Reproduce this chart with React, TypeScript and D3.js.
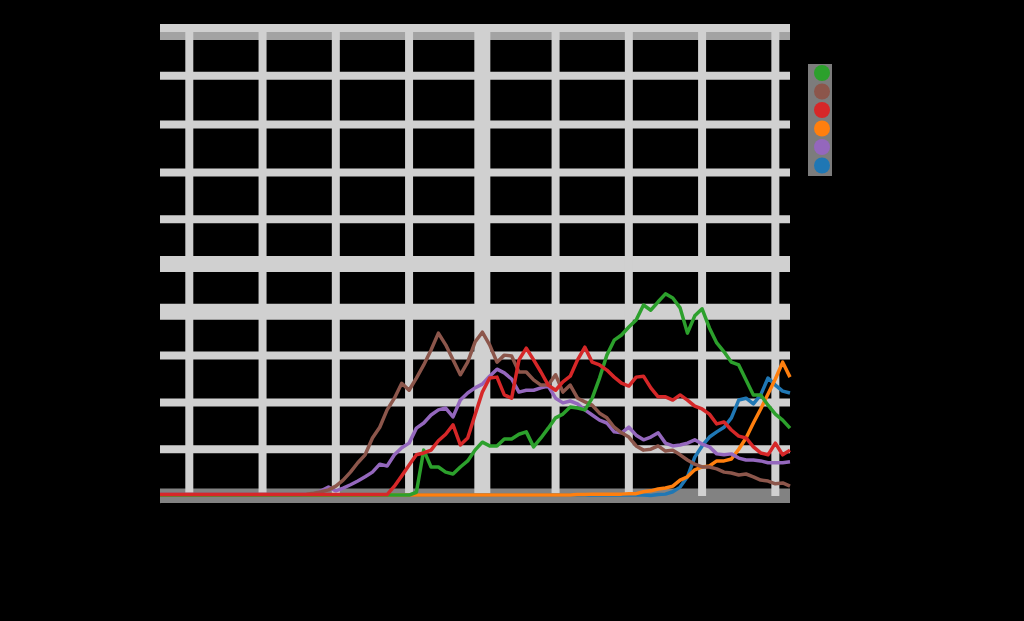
import React, { useRef, useEffect } from 'react';
import * as d3 from 'd3';

// period index shared by every series (10 periods between grid ticks)
const periods: number[] = d3.range(0, 87);

const xTickValues = [4, 14, 24, 34, 44, 54, 64, 74, 84];
const xTickLabels = ['2012', '2013', '2014', '2015', '2016', '2017', '2018', '2019', '2020'];
const yTickValues = [0, 10, 20, 30, 40, 50, 60, 70, 80, 90, 100];

const seriesNames = ['Series 1', 'Series 2', 'Series 3', 'Series 4', 'Series 5', 'Series 6'];
const seriesColors = ['#2ca02c', '#8c564b', '#d62728', '#ff7f0e', '#9467bd', '#1f77b4'];

const flat = (n: number, v: number) => Array(n).fill(v);

const greenValues: number[] = [
  ...flat(35, 0.2),
  0.8, 9.8, 6.2, 6.2, 5.1, 4.7, 6.2, 7.5, 9.8, 11.5,
  10.7, 10.7, 12.2, 12.2, 13.2, 13.7, 10.5, 12.4, 14.5, 16.7,
  17.5, 19.0, 18.8, 18.4, 20.9, 25.2, 30.1, 33.3, 34.4, 36.1,
  37.6, 40.8, 39.7, 41.5, 43.2, 42.3, 40.2, 34.8, 38.5, 40.0,
  35.9, 32.7, 30.8, 28.6, 28.0, 24.8, 21.6, 21.6, 19.4, 17.5,
  16.2, 14.5,
];

const brownValues: number[] = [
  ...flat(20, 0.3),
  0.4, 0.6, 0.9, 1.3, 2.1, 3.4, 5.1, 7.1, 8.8, 12.4,
  14.7, 18.4, 20.9, 24.1, 22.6, 25.2, 28.0, 31.2, 34.8, 32.3,
  29.1, 25.9, 28.6, 32.9, 35.0, 32.3, 28.6, 30.1, 29.9, 26.5,
  26.5, 24.8, 23.7, 23.7, 25.9, 22.2, 23.7, 20.9, 20.1, 19.4,
  17.7, 16.7, 14.7, 13.5, 12.6, 10.7, 9.8, 10.0, 10.7, 9.6,
  9.8, 8.8, 7.7, 6.8, 6.2, 6.2, 5.8, 5.1, 4.9, 4.5,
  4.7, 4.1, 3.4, 3.2, 2.6, 2.8, 2.1,
];

const redValues: number[] = [
  ...flat(32, 0.3),
  2.1, 4.3, 6.6, 8.8, 9.2, 9.8, 11.8, 13.2, 15.2, 10.9,
  12.4, 17.3, 22.2, 25.2, 25.4, 21.6, 20.9, 29.1, 31.6, 29.1,
  26.5, 23.7, 22.6, 24.4, 25.6, 29.1, 31.8, 28.6, 28.0, 26.9,
  25.4, 24.1, 23.5, 25.4, 25.6, 23.1, 21.2, 21.2, 20.5, 21.6,
  20.5, 19.2, 18.6, 17.5, 15.4, 15.8, 14.1, 12.8, 12.4, 10.5,
  9.2, 8.8, 11.3, 8.8, 9.8,
];

const orangeValues: number[] = [
  ...flat(57, 0.2),
  0.3, 0.3, 0.4, 0.4, 0.4, 0.4, 0.4, 0.5, 0.5, 0.9,
  1.1, 1.5, 1.7, 2.1, 3.4, 4.1, 5.6, 6.2, 6.4, 7.5,
  7.5, 7.9, 10.0, 12.4, 15.6, 18.6, 21.8, 25.0, 28.6, 25.4,
];

const purpleValues: number[] = [
  ...flat(21, 0.3),
  0.4, 1.1, 1.9, 1.1, 1.7, 2.4, 3.2, 4.1, 5.1, 6.8,
  6.4, 8.8, 10.3, 11.3, 14.5, 15.6, 17.3, 18.4, 18.8, 16.9,
  20.5, 22.0, 23.1, 23.9, 25.6, 27.1, 26.3, 25.0, 22.2, 22.6,
  22.6, 23.1, 23.5, 20.9, 19.9, 20.3, 19.7, 18.4, 17.3, 16.2,
  15.6, 13.7, 13.5, 14.7, 13.0, 12.0, 12.6, 13.5, 11.3, 10.7,
  10.9, 11.3, 12.0, 11.1, 10.5, 9.0, 8.8, 9.0, 8.1, 7.7,
  7.7, 7.5, 7.1, 7.1, 7.1, 7.3,
];

const blueValues: number[] = [
  ...flat(67, 0.2),
  0.1, 0.3, 0.4, 0.9, 1.9, 4.1, 8.3, 10.7, 12.6, 13.7,
  14.7, 16.7, 20.5, 20.9, 19.7, 21.6, 25.2, 23.7, 22.4, 22.0,
];

const seriesValues = [greenValues, brownValues, redValues, orangeValues, purpleValues, blueValues];
// draw order: last one ends on top
const drawOrder = [5, 3, 4, 1, 0, 2];

const width = 1024;
const height = 621;
const plot = { left: 160, right: 790, top: 28, bottom: 496 };

// small pixel nudges so the grid sits where the reference has it
const gridNudge: Record<number, number> = { 40: 3, 50: 2, 60: 4, 70: 4, 80: 3, 90: 1 };

const App: React.FC = () => {
  const svgRef = useRef<SVGSVGElement>(null);

  useEffect(() => {
    if (!svgRef.current) return;
    const svg = d3.select(svgRef.current);
    svg.selectAll('*').remove();

    svg.append('rect').attr('width', width).attr('height', height).attr('fill', '#000');

    const x = d3.scaleLinear().domain([0, 86]).range([plot.left, plot.right]);
    const y = d3.scaleLinear().domain([0, 100]).range([plot.bottom, plot.top]);

    const grid = svg.append('g');

    // horizontal grid
    yTickValues.forEach(v => {
      const thick = v === 40 || v === 50;
      const yy = y(v) + (gridNudge[v] || 0);
      grid.append('line')
        .attr('x1', plot.left).attr('x2', plot.right)
        .attr('y1', yy).attr('y2', yy)
        .attr('stroke', v === 0 ? '#828282' : '#d0d0d0')
        .attr('stroke-width', v === 0 ? 15 : thick ? 16 : 8);
    });
    // darker band under the top line
    grid.append('line')
      .attr('x1', plot.left).attr('x2', plot.right)
      .attr('y1', y(100) + 8).attr('y2', y(100) + 8)
      .attr('stroke', '#a3a3a3').attr('stroke-width', 8);

    // vertical grid
    xTickValues.forEach(v => {
      grid.append('line')
        .attr('x1', x(v)).attr('x2', x(v))
        .attr('y1', plot.top + 4).attr('y2', plot.bottom)
        .attr('stroke', '#d0d0d0')
        .attr('stroke-width', v === 44 ? 16 : 8);
    });

    // axes (black text on black, as in the reference)
    const xAxis = svg.append('g')
      .attr('transform', `translate(0,${plot.bottom + 7})`)
      .call(d3.axisBottom(x).tickValues(xTickValues).tickFormat((_, i) => xTickLabels[i]).tickSize(5));
    xAxis.selectAll('text').attr('fill', '#000').attr('font-size', 12).attr('font-family', 'DejaVu Sans');
    xAxis.selectAll('line, path').attr('stroke', '#000');

    const yAxis = svg.append('g')
      .attr('transform', `translate(${plot.left - 3},0)`)
      .call(d3.axisLeft(y).tickValues(yTickValues).tickSize(5));
    yAxis.selectAll('text').attr('fill', '#000').attr('font-size', 12).attr('font-family', 'DejaVu Sans');
    yAxis.selectAll('line, path').attr('stroke', '#000');

    // lines
    const line = d3.line<number>()
      .x((_, i) => x(periods[i]))
      .y(d => y(d));

    drawOrder.forEach(s => {
      svg.append('path')
        .datum(seriesValues[s])
        .attr('fill', 'none')
        .attr('stroke', seriesColors[s])
        .attr('stroke-width', 3.5)
        .attr('stroke-linejoin', 'round')
        .attr('d', line);
    });

    // legend
    const legend = svg.append('g').attr('transform', 'translate(808,64)');
    legend.append('rect')
      .attr('width', 24).attr('height', 112)
      .attr('fill', '#7c7c7c');
    seriesNames.forEach((name, i) => {
      legend.append('circle')
        .attr('cx', 14).attr('cy', 9 + i * 18.5).attr('r', 8)
        .attr('fill', seriesColors[i]);
      legend.append('text')
        .attr('x', 30).attr('y', 13 + i * 18.5)
        .attr('fill', '#000')
        .attr('font-size', 12)
        .attr('font-family', 'DejaVu Sans')
        .text(name);
    });
  }, []);

  return (
    <div style={{ position: 'absolute', left: 0, top: 0, background: '#000' }}>
      <svg ref={svgRef} width={width} height={height} style={{ display: 'block' }} />
    </div>
  );
};

export default App;
